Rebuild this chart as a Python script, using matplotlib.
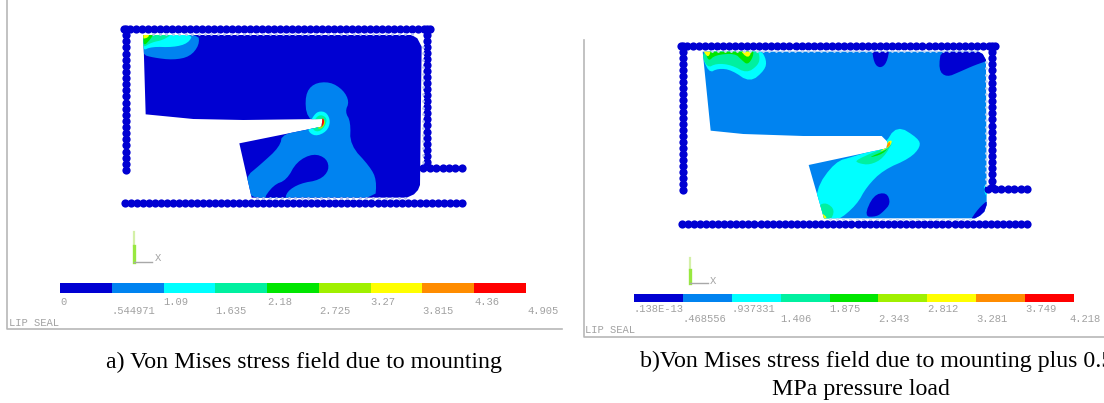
import matplotlib
matplotlib.use('Agg')
import matplotlib.pyplot as plt
from matplotlib.patches import Polygon
import numpy as np

# ansys contour band colours
band_colors = ['#0000d2', '#0083f0', '#00ffff', '#00f0a0', '#00e600',
               '#a0f000', '#ffff00', '#ff8c00', '#ff0000']

labels_a_top = ['0', '1.09', '2.18', '3.27', '4.36']
labels_a_low = ['.544971', '1.635', '2.725', '3.815', '4.905']
labels_b_top = ['.138E-13', '.937331', '1.875', '2.812', '3.749']
labels_b_low = ['.468556', '1.406', '2.343', '3.281', '4.218']

# outlines below are in zoomed crop units, see to_px
body_a = [(100, 60), (905, 60), (922, 70), (935, 95), (930, 510), (924, 525), (912, 538), (890, 548),
          (425, 548), (388, 385), (635, 335), (637, 312), (400, 315), (250, 312), (107, 298)]
regions_a = [
    (1, [(95, 55), (265, 55), (268, 90), (240, 125), (190, 135), (130, 128), (95, 118)]),
    (2, [(95, 108), (125, 95), (190, 97), (235, 85), (250, 55), (95, 55)]),
    (3, [(95, 100), (125, 82), (160, 75), (190, 55), (95, 55)]),
    (4, [(100, 95), (122, 72), (132, 55), (95, 55)]),
    (6, [(95, 72), (115, 68), (118, 55), (95, 55)]),
    (1, [(590, 310), (585, 240), (610, 205), (660, 200), (700, 225), (718, 260), (705, 290),
         (722, 320), (720, 390), (780, 455), (800, 495), (795, 560), (410, 560), (405, 487),
         (450, 450), (510, 395), (517, 355), (640, 330)]),
    (0, [(455, 560), (490, 510), (530, 495), (560, 440), (610, 415), (650, 430), (658, 465),
         (630, 495), (570, 505), (530, 530), (525, 560)]),
    (2, [(590, 345), (615, 365), (650, 350), (662, 320), (650, 292), (625, 288), (608, 305)]),
    (3, [(605, 342), (625, 352), (645, 335), (652, 310), (632, 298), (615, 310)]),
    (5, [(620, 340), (635, 342), (648, 322), (635, 305)]),
    (8, [(630, 340), (642, 328), (642, 310), (632, 312)]),
]

body_b = [(98, 65), (925, 65), (938, 72), (948, 90), (950, 525), (943, 545), (930, 557), (915, 565),
          (462, 565), (416, 405), (650, 355), (652, 335), (635, 318), (400, 318), (220, 312), (122, 302)]
regions_b = [
    (0, [(605, 50), (660, 50), (650, 100), (630, 115), (612, 100)]),
    (0, [(815, 50), (960, 50), (960, 90), (915, 105), (870, 125), (830, 142), (805, 120)]),
    (0, [(582, 560), (610, 495), (650, 487), (662, 520), (640, 545), (620, 560)]),
    (0, [(960, 505), (965, 580), (895, 580), (925, 535)]),
    (2, [(115, 130), (145, 115), (185, 120), (240, 158), (285, 120), (290, 90), (270, 55), (90, 55)]),
    (3, [(110, 115), (140, 100), (185, 105), (230, 130), (265, 105), (270, 80), (260, 55), (90, 55)]),
    (4, [(105, 60), (115, 95), (135, 75), (195, 70), (215, 90), (233, 105), (250, 80), (250, 55)]),
    (6, [(205, 55), (235, 88), (248, 55)]),
    (6, [(98, 60), (115, 85), (125, 55), (95, 55)]),
    (2, [(940, 465), (960, 465), (960, 505), (945, 495)]),
    (2, [(640, 350), (680, 285), (745, 325), (752, 350), (720, 385), (640, 420), (590, 470),
         (560, 525), (500, 575), (445, 575), (435, 480), (495, 395), (550, 380)]),
    (3, [(555, 390), (665, 345), (672, 330), (640, 385), (600, 405), (565, 400)]),
    (3, [(450, 575), (445, 525), (470, 518), (495, 540), (480, 575)]),
    (4, [(590, 385), (650, 360), (660, 345), (640, 372)]),
    (6, [(625, 368), (658, 352), (668, 330), (652, 335), (648, 352)]),
    (7, [(645, 358), (662, 345), (658, 332)]),
    (6, [(452, 575), (450, 545), (475, 565)]),
]

# wall segments of target nodes, start and end
walls_a = [((42, 42), (960, 42)), ((48, 42), (48, 465)), ((952, 42), (952, 440)),
           ((940, 460), (1055, 460)), ((45, 565), (1055, 565))]
walls_b = [((32, 48), (975, 48)), ((40, 48), (40, 480)), ((965, 48), (965, 470)),
           ((955, 476), (1072, 476)), ((35, 582), (1072, 582))]
# contact nodes along the seal edge
edges_a = [((130, 57), (905, 57)), ((938, 95), (938, 440)), ((440, 548), (885, 548))]
edges_b = [((125, 63), (915, 63)), ((948, 95), (948, 465)), ((480, 566), (900, 566))]


def to_px(pts, origin):
    """Crop units to picture pixels."""
    pts = np.array(pts, dtype=float)
    return pts / 3 + np.array(origin)


def rounded(pts, passes=2):
    """Corner cutting, so the contour bands look soft."""
    pts = np.array(pts, dtype=float)
    for _ in range(passes):
        nxt = np.roll(pts, -1, axis=0)
        pts = np.column_stack([0.75 * pts + 0.25 * nxt, 0.25 * pts + 0.75 * nxt]).reshape(-1, 2)
    return pts


def draw_seal(ax, body, regions, origin, base):
    outline = Polygon(to_px(body, origin), closed=True, facecolor=band_colors[base],
                      edgecolor='none', zorder=2)
    ax.add_patch(outline)
    for idx, pts in regions:
        p = Polygon(to_px(rounded(pts), origin), closed=True, facecolor=band_colors[idx],
                    edgecolor='none', zorder=3)
        ax.add_patch(p)
        p.set_clip_path(outline)


def draw_nodes(ax, segments, origin, step, size, color, z):
    for start, end in segments:
        a, b = to_px([start, end], origin)
        n = int(np.hypot(*(b - a)) / step) + 1
        ax.scatter(np.linspace(a[0], b[0], n), np.linspace(a[1], b[1], n),
                   s=size, color=color, linewidths=0, zorder=z)


def draw_bar(ax, x0, x1, y0, y1, top, low, top_y, low_y, low_end):
    edges = np.linspace(x0, x1, len(band_colors) + 1)
    for i, c in enumerate(band_colors):
        ax.fill_between([edges[i], edges[i + 1]], y0, y1, color=c, linewidth=0, zorder=3)
    for i, t in enumerate(top):
        ax.text(edges[i * 2], top_y, t, ha='left', **small)
    low_x = list(edges[1::2])
    low_x[-1] = low_end
    for i, t in enumerate(low):
        ax.text(low_x[i], low_y, t, ha='left', **small)


small = dict(family='Liberation Mono', fontsize=7.6, color='#a2a2a2', va='center')
caption = dict(family='Liberation Serif', fontsize=17.2, color='black', va='center')

fig = plt.figure(figsize=(11.04, 4.03), dpi=100)
ax = fig.add_axes([0, 0, 1, 1])
ax.set_xlim(0, 1104)
ax.set_ylim(403, 0)
ax.axis('off')

# window frames
ax.plot([7, 7, 562], [0, 329, 329], color='#b8b8b8', linewidth=1.2)
ax.plot([584, 584, 1104], [40, 337, 337], color='#b8b8b8', linewidth=1.2)

draw_seal(ax, body_a, regions_a, (110, 15), 0)
draw_nodes(ax, walls_a, (110, 15), 6.0, 35, '#0000d2', 4)
draw_nodes(ax, edges_a, (110, 15), 6.4, 4, '#b8c4f0', 5)
draw_seal(ax, body_b, regions_b, (670, 30), 1)
draw_nodes(ax, walls_b, (670, 30), 6.0, 35, '#0000d2', 4)
draw_nodes(ax, edges_b, (670, 30), 6.4, 4, '#c4d8f4', 5)

draw_bar(ax, 60, 526, 283, 293, labels_a_top, labels_a_low, 302, 311, 527)
draw_bar(ax, 634, 1074, 294, 302, labels_b_top, labels_b_low, 309, 319, 1069)

# coordinate triads
ax.plot([134, 134], [232, 246], color='#d4f0a8', linewidth=1.6)
ax.plot([134, 134], [246, 262], color='#98e840', linewidth=2.4)
ax.plot([134, 152], [262, 262], color='#a8a8a8', linewidth=1)
ax.text(158, 258, 'X', ha='center', **small)
ax.plot([690, 690], [258, 270], color='#d4f0a8', linewidth=1.6)
ax.plot([690, 690], [270, 283], color='#98e840', linewidth=2.4)
ax.plot([690, 708], [283, 283], color='#a8a8a8', linewidth=1)
ax.text(713, 281, 'X', ha='center', **small)

ax.text(9, 323, 'LIP SEAL', ha='left', **small)
ax.text(585, 330, 'LIP SEAL', ha='left', **small)

ax.text(303.5, 362, 'a) Von Mises stress field due to mounting', ha='center', **caption)
ax.text(640, 361, 'b)Von Mises stress field due to mounting plus 0.5', ha='left', **caption)
ax.text(861, 389, 'MPa pressure load', ha='center', **caption)

fig.savefig('out.png', dpi=100)
